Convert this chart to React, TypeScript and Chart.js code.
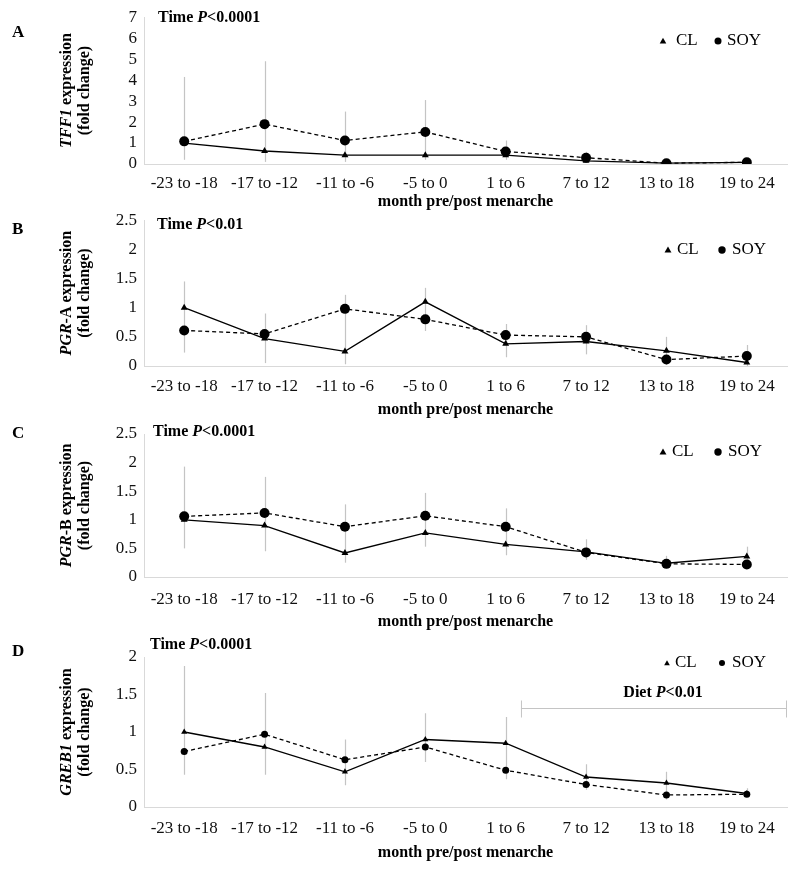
import React, { useEffect, useRef } from 'react';
import { Chart, registerables } from 'chart.js';

Chart.register(...registerables);

const FONT = '"Liberation Serif", "Times New Roman", serif';

const categories = ['-23 to -18', '-17 to -12', '-11 to -6', '-5 to 0', '1 to 6', '7 to 12', '13 to 18', '19 to 24'];

// Panel A: TFF1
const tff1CL = [1.0, 0.62, 0.42, 0.42, 0.42, 0.15, 0.04, 0.08];
const tff1SOY = [1.08, 1.9, 1.12, 1.53, 0.6, 0.3, 0.04, 0.08];
const tff1ErrLow = [0.2, 0.1, 0.1, 0.2, 0.2, 0.1, 0.0, 0.05];
const tff1ErrHigh = [4.15, 4.9, 2.5, 3.05, 1.12, 0.58, 0.1, 0.15];

// Panel B: PGR-A
const pgraCL = [1.0, 0.47, 0.25, 1.1, 0.38, 0.42, 0.26, 0.06];
const pgraSOY = [0.61, 0.55, 0.98, 0.8, 0.53, 0.5, 0.11, 0.17];
const pgraErrLow = [0.23, 0.05, 0.03, 0.6, 0.15, 0.2, 0.02, 0.0];
const pgraErrHigh = [1.45, 0.9, 1.22, 1.34, 0.72, 0.7, 0.5, 0.36];

// Panel C: PGR-B
const pgrbCL = [1.0, 0.9, 0.42, 0.77, 0.57, 0.44, 0.24, 0.36];
const pgrbSOY = [1.06, 1.12, 0.88, 1.07, 0.88, 0.43, 0.23, 0.22];
const pgrbErrLow = [0.5, 0.45, 0.25, 0.53, 0.38, 0.3, 0.15, 0.2];
const pgrbErrHigh = [1.93, 1.75, 1.27, 1.47, 1.2, 0.66, 0.37, 0.53];

// Panel D: GREB1
const greb1CL = [1.0, 0.8, 0.47, 0.9, 0.85, 0.4, 0.32, 0.18];
const greb1SOY = [0.74, 0.97, 0.63, 0.8, 0.49, 0.3, 0.16, 0.17];
const greb1ErrLow = [0.43, 0.43, 0.29, 0.6, 0.37, 0.23, 0.1, 0.14];
const greb1ErrHigh = [1.88, 1.52, 0.9, 1.25, 1.2, 0.57, 0.47, 0.25];

const seriesNames = ['CL', 'SOY'];
const xTitle = 'month pre/post menarche';

type Run = { t: string; f: string };

const B16 = `bold 16px ${FONT}`;
const BI16 = `italic bold 16px ${FONT}`;

interface Panel {
  letter: string;
  canvasTop: number;
  canvasH: number;
  plotTop: number;
  plotBottom: number;
  yMax: number;
  yStep: number;
  cl: number[];
  soy: number[];
  errLow: number[];
  errHigh: number[];
  yTitle: Run[];
  pText: string;
  letterY: number;
  timeX: number;
  timeY: number;
  leg: { triX: number; clX: number; circX: number; soyX: number; y: number; r: number };
  xTickPad: number;
  xTitleY: number;
  circR: number;
  triR: number;
  diet?: { startIndex: number; lineY: number; textY: number; textX: number };
}

const panels: Panel[] = [
  {
    letter: 'A', canvasTop: 0, canvasH: 215, plotTop: 15, plotBottom: 164, yMax: 7, yStep: 1,
    cl: tff1CL, soy: tff1SOY, errLow: tff1ErrLow, errHigh: tff1ErrHigh,
    yTitle: [{ t: 'TFF1', f: BI16 }, { t: ' expression', f: B16 }], pText: '<0.0001',
    letterY: 33, timeX: 158, timeY: 18,
    leg: { triX: 663, clX: 676, circX: 718, soyX: 727, y: 41, r: 3.5 },
    xTickPad: 9, xTitleY: 202, circR: 5, triR: 4,
  },
  {
    letter: 'B', canvasTop: 203, canvasH: 217, plotTop: 216, plotBottom: 366, yMax: 2.5, yStep: 0.5,
    cl: pgraCL, soy: pgraSOY, errLow: pgraErrLow, errHigh: pgraErrHigh,
    yTitle: [{ t: 'PGR', f: BI16 }, { t: '-A expression', f: B16 }], pText: '<0.01',
    letterY: 230, timeX: 157, timeY: 225,
    leg: { triX: 668, clX: 677, circX: 722, soyX: 732, y: 250, r: 3.7 },
    xTickPad: 10, xTitleY: 410, circR: 5, triR: 4,
  },
  {
    letter: 'C', canvasTop: 415, canvasH: 220, plotTop: 434, plotBottom: 577, yMax: 2.5, yStep: 0.5,
    cl: pgrbCL, soy: pgrbSOY, errLow: pgrbErrLow, errHigh: pgrbErrHigh,
    yTitle: [{ t: 'PGR', f: BI16 }, { t: '-B expression', f: B16 }], pText: '<0.0001',
    letterY: 434, timeX: 153, timeY: 432,
    leg: { triX: 663, clX: 672, circX: 718, soyX: 728, y: 452, r: 3.7 },
    xTickPad: 12, xTitleY: 622, circR: 5, triR: 4,
  },
  {
    letter: 'D', canvasTop: 635, canvasH: 237, plotTop: 657, plotBottom: 807, yMax: 2, yStep: 0.5,
    cl: greb1CL, soy: greb1SOY, errLow: greb1ErrLow, errHigh: greb1ErrHigh,
    yTitle: [{ t: 'GREB1', f: BI16 }, { t: ' expression', f: B16 }], pText: '<0.0001',
    letterY: 652, timeX: 150, timeY: 645,
    leg: { triX: 667, clX: 675, circX: 722, soyX: 732, y: 663, r: 3 },
    xTickPad: 11, xTitleY: 853, circR: 3.5, triR: 3.5,
    diet: { startIndex: 4.19, lineY: 708, textY: 693, textX: 663 },
  },
];

function drawRuns(ctx: CanvasRenderingContext2D, runs: Run[], x: number, y: number, align: 'left' | 'center') {
  const widths = runs.map((r) => {
    ctx.font = r.f;
    return ctx.measureText(r.t).width;
  });
  const total = widths.reduce((a, b) => a + b, 0);
  let start = align === 'center' ? x - total / 2 : x;
  ctx.textAlign = 'left';
  ctx.textBaseline = 'middle';
  runs.forEach((r, i) => {
    ctx.font = r.f;
    ctx.fillText(r.t, start, y);
    start += widths[i];
  });
}

function triangle(ctx: CanvasRenderingContext2D, x: number, y: number, r: number) {
  let rad = 0;
  const step = (Math.PI * 2) / 3;
  ctx.beginPath();
  ctx.moveTo(x + Math.sin(rad) * r, y - Math.cos(rad) * r);
  rad += step;
  ctx.lineTo(x + Math.sin(rad) * r, y - Math.cos(rad) * r);
  rad += step;
  ctx.lineTo(x + Math.sin(rad) * r, y - Math.cos(rad) * r);
  ctx.closePath();
  ctx.fill();
}

function makeConfig(p: Panel): any {
  const off = p.canvasTop;
  const overlay = {
    id: 'overlay' + p.letter,
    beforeDatasetsDraw(chart: any) {
      const ctx = chart.ctx as CanvasRenderingContext2D;
      const xs = chart.scales.x;
      const ys = chart.scales.y;
      ctx.save();
      ctx.strokeStyle = '#c4c4c4';
      ctx.lineWidth = 1.2;
      p.errLow.forEach((lo, i) => {
        const x = Math.round(xs.getPixelForValue(i)) + 0.5;
        ctx.beginPath();
        ctx.moveTo(x, ys.getPixelForValue(lo));
        ctx.lineTo(x, ys.getPixelForValue(p.errHigh[i]));
        ctx.stroke();
      });
      ctx.restore();
    },
    afterDraw(chart: any) {
      const ctx = chart.ctx as CanvasRenderingContext2D;
      const area = chart.chartArea;
      ctx.save();
      ctx.fillStyle = '#000';
      drawRuns(ctx, [{ t: p.letter, f: `bold 17px ${FONT}` }], 12, p.letterY - off, 'left');
      drawRuns(ctx, [{ t: 'Time ', f: B16 }, { t: 'P', f: BI16 }, { t: p.pText, f: B16 }], p.timeX, p.timeY - off, 'left');
      const cy = (area.top + area.bottom) / 2;
      ctx.save();
      ctx.translate(67, cy);
      ctx.rotate(-Math.PI / 2);
      drawRuns(ctx, p.yTitle, 0, 0, 'center');
      ctx.restore();
      ctx.save();
      ctx.translate(85, cy);
      ctx.rotate(-Math.PI / 2);
      drawRuns(ctx, [{ t: '(fold change)', f: B16 }], 0, 0, 'center');
      ctx.restore();
      drawRuns(ctx, [{ t: xTitle, f: B16 }], (area.left + area.right) / 2, p.xTitleY - off, 'center');
      const L = p.leg;
      const ly = L.y - off;
      triangle(ctx, L.triX, ly + 0.5, L.r + 0.3);
      drawRuns(ctx, [{ t: seriesNames[0], f: `17px ${FONT}` }], L.clX, ly, 'left');
      ctx.beginPath();
      ctx.arc(L.circX, ly, L.r, 0, Math.PI * 2);
      ctx.fill();
      drawRuns(ctx, [{ t: seriesNames[1], f: `17px ${FONT}` }], L.soyX, ly, 'left');
      if (p.diet) {
        const d = p.diet;
        const x0 = chart.scales.x.getPixelForValue(d.startIndex);
        const x1 = area.right;
        const y = d.lineY - off + 0.5;
        ctx.strokeStyle = '#c4c4c4';
        ctx.lineWidth = 1;
        ctx.beginPath();
        ctx.moveTo(x0, y);
        ctx.lineTo(x1, y);
        ctx.moveTo(x0 + 0.5, y - 8);
        ctx.lineTo(x0 + 0.5, y + 9);
        ctx.moveTo(x1 - 0.5, y - 8);
        ctx.lineTo(x1 - 0.5, y + 9);
        ctx.stroke();
        drawRuns(ctx, [{ t: 'Diet ', f: B16 }, { t: 'P', f: BI16 }, { t: '<0.01', f: B16 }], d.textX, d.textY - off, 'center');
      }
      ctx.restore();
    },
  };

  const tickFont = { family: FONT, size: 17 };
  return {
    type: 'line',
    data: {
      labels: categories,
      datasets: [
        {
          label: seriesNames[0],
          data: p.cl,
          borderColor: '#000',
          backgroundColor: '#000',
          borderWidth: 1.3,
          pointStyle: 'triangle',
          pointRadius: p.triR,
          pointBorderWidth: 0,
          tension: 0,
        },
        {
          label: seriesNames[1],
          data: p.soy,
          borderColor: '#000',
          backgroundColor: '#000',
          borderWidth: 1.3,
          borderDash: [4, 3],
          pointStyle: 'circle',
          pointRadius: p.circR,
          pointBorderWidth: 0,
          tension: 0,
        },
      ],
    },
    options: {
      responsive: false,
      animation: false,
      devicePixelRatio: 1,
      layout: { padding: { top: p.plotTop - off, right: 13, left: 0, bottom: 0 } },
      plugins: { legend: { display: false }, tooltip: { enabled: false }, title: { display: false } },
      scales: {
        x: {
          type: 'category',
          offset: true,
          grid: { display: false, drawTicks: false },
          border: { display: true, color: '#d9d9d9', width: 1 },
          ticks: { font: tickFont, color: '#111', padding: p.xTickPad, maxRotation: 0, autoSkip: false },
          afterFit: (s: any) => {
            s.height = p.canvasH - (p.plotBottom - off);
          },
        },
        y: {
          min: 0,
          max: p.yMax,
          grid: { display: false, drawTicks: false },
          border: { display: true, color: '#d9d9d9', width: 1 },
          ticks: {
            stepSize: p.yStep,
            autoSkip: false,
            font: tickFont,
            color: '#111',
            padding: 7,
            callback: (v: any) => String(Number(v)),
          },
          afterFit: (s: any) => {
            s.width = 144;
          },
        },
      },
    },
    plugins: [overlay],
  };
}

function PanelChart({ p }: { p: Panel }) {
  const ref = useRef<HTMLCanvasElement | null>(null);
  useEffect(() => {
    if (!ref.current) return;
    const chart = new Chart(ref.current, makeConfig(p));
    return () => chart.destroy();
  }, [p]);
  return (
    <canvas
      ref={ref}
      width={800}
      height={p.canvasH}
      style={{ position: 'absolute', left: 0, top: p.canvasTop, width: 800, height: p.canvasH }}
    />
  );
}

export default function App() {
  return (
    <div style={{ position: 'absolute', left: 0, top: 0, width: 800, height: 872, background: '#fff' }}>
      {panels.map((p) => (
        <PanelChart key={p.letter} p={p} />
      ))}
    </div>
  );
}
